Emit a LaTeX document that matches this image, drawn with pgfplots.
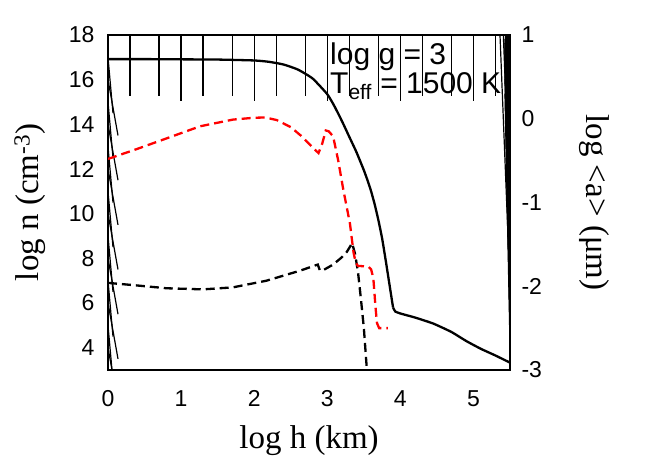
\documentclass[border=0pt]{standalone}
\usepackage{pgfplots}
\pgfplotsset{compat=1.18}
\usepackage{fontspec}
\setmainfont{Liberation Serif}
\newfontfamily\hv{Liberation Sans}

\tikzset{tk/.style={black, line width=1.2pt}}
\pgfplotsset{
  twoax/.style={
    scale only axis, width=402pt, height=335pt,
    xmin=0, xmax=5.5,
    axis line style={line width=1.5pt, black},
    major tick length=0pt, minor tick length=0pt,
    tick label style={font=\hv\fontsize{23}{23}\selectfont},
    label style={font=\fontsize{33}{33}\selectfont},
  },
}

\begin{document}
\begin{tikzpicture}
%% left axis: number densities
\begin{axis}[
  twoax,
  at={(0,0)}, anchor=south west,
  ymin=3, ymax=18,
  xtick={0,1,2,3,4,5},
  ytick={4,6,8,10,12,14,16,18},
  xticklabel style={yshift=-17pt},
  yticklabel style={xshift=-10pt},
  xlabel={log h (km)},
  xlabel style={at={(axis description cs:0.5,-0.21)}, anchor=center},
  ylabel={log n (cm\textsuperscript{-3})},
  ylabel style={at={(axis description cs:-0.194,0.5)}, anchor=center},
  /pgf/number format/assume math mode=true,
]
  %% gas, solid black
  \addplot[black, line width=2.3pt, smooth, tension=0.3] coordinates {
    (0,16.92) (0.5,16.92) (1.0,16.91) (1.5,16.9) (2.0,16.86) (2.2,16.8)
    (2.4,16.68) (2.6,16.45) (2.8,16.05) (3.0,15.35) (3.1,14.8) (3.2,14.15)
    (3.3,13.45) (3.4,12.75) (3.5,11.95) (3.55,11.5) (3.6,11.0) (3.65,10.4)
    (3.7,9.7) (3.75,8.9) (3.8,7.9) (3.85,6.85) (3.9,5.8)
  };
  \addplot[black, line width=2.3pt, smooth, tension=0.3] coordinates {
    (3.9,5.8) (3.93,5.62) (4.0,5.53) (4.2,5.35) (4.45,5.08) (4.7,4.7)
    (4.9,4.3) (5.1,3.95) (5.3,3.65) (5.5,3.33)
  };
  %% dust, dashed black
  \addplot[black, line width=2.3pt, dash pattern=on 9pt off 5pt] coordinates {
    (0,6.9) (0.35,6.8) (0.8,6.66) (1.3,6.61) (1.71,6.7) (2.17,7.0)
    (2.63,7.45) (2.87,7.72) (2.9,7.45) (2.95,7.48) (3.08,7.72) (3.2,8.05)
    (3.27,8.3) (3.34,8.68) (3.38,8.2) (3.42,7.4) (3.46,6.2) (3.5,4.9)
    (3.54,3.1) (3.56,2.5)
  };
  %% tick marks: bottom and top (log-style minors), left side
  \pgfplotsinvokeforeach{0,1,2,3,4,5}{
    \draw[tk] (axis cs:#1,3) -- ++(0,10pt);
    \draw[tk] (axis cs:#1,18) -- ++(0,-10pt);
  }
  \pgfplotsinvokeforeach{0.301,0.699,1.301,1.699,2.301,2.699,3.301,3.699,4.301,4.699,5.301}{
    \draw[tk] (axis cs:#1,3) -- ++(0,5pt);
    \draw[tk] (axis cs:#1,18) -- ++(0,-5pt);
  }
  \pgfplotsinvokeforeach{4,6,8,10,12,14,16}{
    \draw[tk] (axis cs:0,#1) -- ++(10pt,0);
  }
  \pgfplotsinvokeforeach{5,7,9,11,13,15,17}{
    \draw[tk] (axis cs:0,#1) -- ++(5pt,0);
  }
\end{axis}
%% right axis: mean grain size
\begin{axis}[
  twoax,
  at={(0,0)}, anchor=south west,
  ymin=-3, ymax=1,
  axis x line=none,
  axis y line*=right,
  ytick={-3,-2,-1,0,1}, yticklabels={-3,-2,-1,0,1},
  yticklabel style={xshift=8pt},
  ylabel={log <a> (μm)},
  ylabel style={at={(axis description cs:1.21,0.5)}, anchor=center, rotate=180},
]
  \addplot[red, line width=2.3pt, dash pattern=on 9pt off 5pt] coordinates {
    (0,-0.48) (0.4,-0.36) (0.8,-0.235) (1.26,-0.09) (1.71,-0.01) (2.0,0.012)
    (2.15,0.015) (2.31,-0.016) (2.5,-0.1) (2.63,-0.195) (2.75,-0.3)
    (2.88,-0.41) (2.93,-0.3) (2.98,-0.14) (3.02,-0.15) (3.08,-0.21)
    (3.15,-0.5) (3.22,-0.85) (3.31,-1.25) (3.36,-1.6) (3.39,-1.72)
    (3.42,-1.757) (3.56,-1.765) (3.6,-1.8) (3.63,-1.9) (3.66,-2.25)
    (3.68,-2.44) (3.71,-2.5) (3.83,-2.5)
  };
  %% log-style ticks on the right side
  \pgfplotsinvokeforeach{-2,-1,0}{
    \draw[tk] (axis cs:5.5,#1) -- ++(-10pt,0);
  }
  \pgfplotsinvokeforeach{-2.699,-2.523,-2.398,-2.301,-2.222,-2.155,-2.097,-2.046,
               -1.699,-1.523,-1.398,-1.301,-1.222,-1.155,-1.097,-1.046,
               -0.699,-0.523,-0.398,-0.301,-0.222,-0.155,-0.097,-0.046,
               0.301,0.477,0.602,0.699,0.778,0.845,0.903,0.954}{
    \draw[tk] (axis cs:5.5,#1) -- ++(-5pt,0);
  }
\end{axis}
\node[anchor=north west, align=left, font=\hv\fontsize{30}{27}\selectfont, inner sep=0pt]
  at (222pt,327pt) {log g = 3\\T\textsubscript{eff} = 1500 K};
\path[use as bounding box] (-108pt,-95pt) rectangle (556pt,370pt);
\end{tikzpicture}
\end{document}
